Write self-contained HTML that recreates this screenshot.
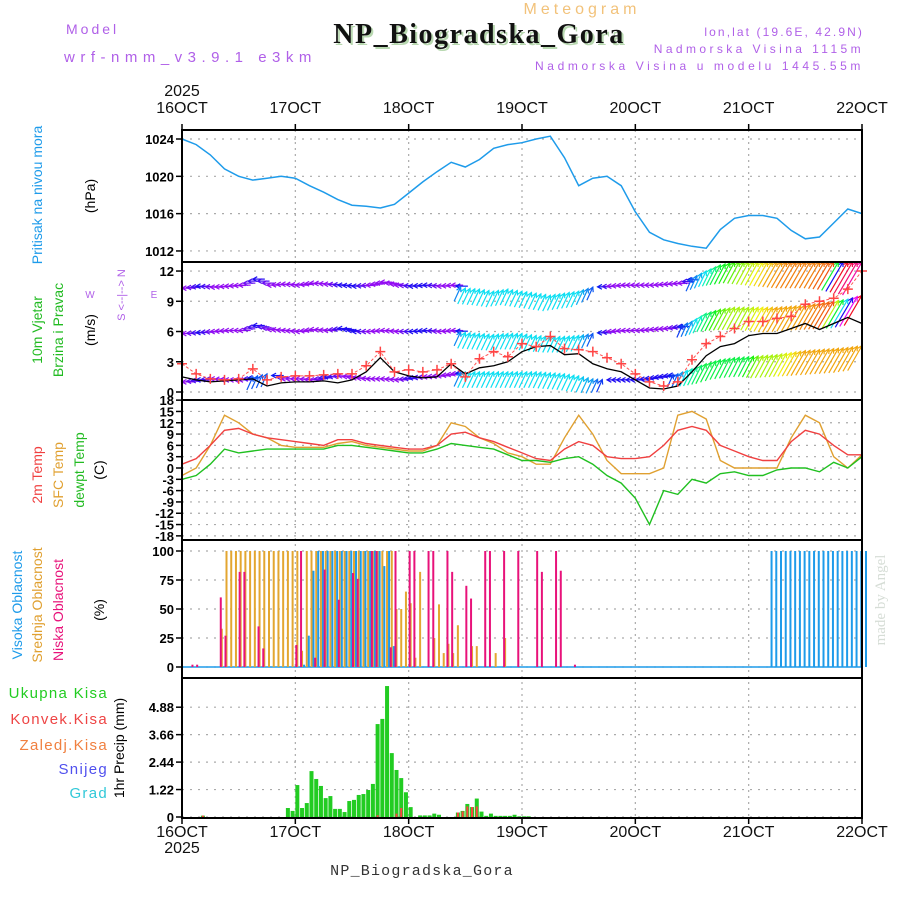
<!DOCTYPE html>
<html><head><meta charset="utf-8"><style>
html,body{margin:0;padding:0;background:#fff;}
svg{display:block;font-family:"Liberation Sans",sans-serif;}
</style></head><body>
<svg id="chart" width="900" height="900" viewBox="0 0 900 900" xmlns="http://www.w3.org/2000/svg">
<rect width="900" height="900" fill="#fff"/>
<text x="582" y="14" text-anchor="middle" font-size="16" fill="#f2c27a" letter-spacing="4">Meteogram</text>
<text x="481" y="45" text-anchor="middle" font-family="Liberation Serif,serif" font-weight="bold" font-size="28" fill="#b8d8b0" letter-spacing="1.5">NP_Biogradska_Gora</text>
<text x="479" y="43" text-anchor="middle" font-family="Liberation Serif,serif" font-weight="bold" font-size="28" fill="#111" letter-spacing="1.5">NP_Biogradska_Gora</text>
<text x="66" y="34" font-size="14" fill="#b060e8" letter-spacing="3">Model</text>
<text x="64" y="62" font-size="15" fill="#b060e8" letter-spacing="5.5">wrf-nmm_v3.9.1 e3km</text>
<text x="864" y="36" text-anchor="end" font-size="12" fill="#b060e8" letter-spacing="2.1">lon,lat (19.6E, 42.9N)</text>
<text x="864" y="53" text-anchor="end" font-size="12" fill="#b060e8" letter-spacing="3.4">Nadmorska Visina 1115m</text>
<text x="864" y="70" text-anchor="end" font-size="12" fill="#b060e8" letter-spacing="3.6">Nadmorska Visina u modelu 1445.55m</text>
<text x="422" y="875" text-anchor="middle" font-family="Liberation Mono,monospace" font-size="15" fill="#333" letter-spacing="1.2">NP_Biogradska_Gora</text>
<text transform="translate(885,600) rotate(-90)" text-anchor="middle" font-family="Liberation Serif,serif" font-size="15" fill="#d6ddd6">made by Angel</text>
<g id="layer"></g>
</svg>
<script>
// ---------- DATA ----------
const days = ["16OCT","17OCT","18OCT","19OCT","20OCT","21OCT","22OCT"];
const pressureTicks = [1012,1016,1020,1024];
const pressure = [1024.0,1023.4,1022.3,1020.8,1020.0,1019.6,1019.8,1020.0,1019.8,1019.0,1018.3,1017.5,1016.9,1016.8,1016.6,1017.0,1018.2,1019.4,1020.5,1021.5,1021.0,1021.8,1023.0,1023.4,1023.6,1024.0,1024.3,1022.0,1019.0,1019.8,1020.0,1019.0,1016.2,1014.0,1013.2,1012.8,1012.5,1012.3,1014.3,1015.5,1015.8,1015.8,1015.5,1014.2,1013.3,1013.5,1015.0,1016.5,1016.0];
const windTicks = [0,3,6,9,12];
const wind10m = [1.5,1.2,1.0,1.1,1.2,1.3,0.6,0.9,1.0,1.0,1.1,0.9,1.2,2.0,3.4,2.0,1.6,1.4,1.5,2.8,1.8,2.4,2.6,3.0,4.0,4.5,4.6,3.7,3.8,2.8,2.3,2.0,1.2,0.4,0.3,0.6,2.0,3.6,4.5,4.8,5.6,5.8,5.8,6.3,6.8,6.2,6.8,7.4,6.8];
const windGust = [2.8,1.8,1.3,1.2,1.3,2.3,1.2,1.5,1.6,1.6,1.7,1.8,1.8,2.6,4.0,2.0,2.2,2.0,2.2,2.8,1.5,3.3,4.0,3.5,4.8,4.5,5.5,4.3,4.2,4.0,3.4,2.8,1.8,1.0,0.6,1.0,3.2,4.8,5.5,6.3,7.0,7.0,7.3,7.5,8.7,9.0,9.3,10.2,12.0];
const topLevel = [10.3,10.5,10.4,10.5,10.6,11.2,10.6,10.7,10.6,10.8,10.7,10.6,10.5,10.6,10.9,10.6,10.5,10.6,10.5,10.6,10.3,10.2,10.0,10.2,10.0,9.8,9.6,9.8,10.0,10.4,10.5,10.6,10.6,10.6,10.7,10.8,11.3,12.0,12.6,12.9,12.9,12.9,12.9,12.9,12.9,12.9,12.9,12.9,12.9];
const topSpeed = [2,3,2,2,2,3,2,2,2,2,2,3,3,2,2,2,3,3,2,2,6,6,6,6,6,6,6,6,6,4,2,2,2,2,2,2,4,6,9,10,11,12,13,14,14,14,15,17,19];
const midLevel = [5.8,5.9,6.0,6.1,6.1,6.6,6.2,6.1,6.0,6.2,6.1,6.3,6.0,6.0,6.1,6.0,6.0,6.1,6.0,6.1,5.9,5.8,5.7,5.8,5.8,5.6,5.5,5.5,5.6,5.8,6.0,6.1,6.1,6.2,6.3,6.5,7.0,7.8,8.2,8.4,8.4,8.4,8.4,8.5,8.6,8.8,9.0,9.2,9.6];
const midSpeed = [2,3,2,2,2,3,2,2,2,2,2,3,3,2,2,2,3,3,2,2,6,6,6,6,6,6,6,6,6,4,2,2,2,2,2,3,5,8,10,11,11,12,13,13,13,14,15,16,17];
const botLevel = [1.0,1.2,1.3,1.2,1.2,1.5,1.8,1.3,1.3,1.2,1.5,1.6,1.4,1.3,1.3,1.2,1.4,1.5,1.6,1.8,2.0,2.0,2.0,2.0,2.0,2.0,1.9,1.8,1.6,1.3,1.2,1.2,1.2,1.4,1.6,1.8,2.3,2.8,3.2,3.4,3.5,3.6,3.7,3.9,4.1,4.2,4.3,4.4,4.6];
const botSpeed = [2,3,2,2,2,4,4,2,2,2,3,2,2,2,2,2,3,2,2,2,6,6,6,6,6,6,6,6,6,5,3,3,3,3,3,4,7,9,9,9,9,11,11,12,13,13,13,13,13];
const tempTicks = [18,15,12,9,6,3,0,-3,-6,-9,-12,-15,-18];
const temp2m = [1,2.5,6,10,10.5,9,8,7.5,7,6.5,6,7.5,7.5,6.5,6,5.5,5,5,6,9,9.5,8,7,5.5,4,2.5,2,5,7,6,3,2.5,2.5,3,6,10,11,10,6,4.5,3,2,2,7,10,9,6,3.5,3.5];
const tempSfc = [-2,0,6,14,12,9,8,6,5.5,5.5,5.5,6.5,7,6,5.5,5,4.5,4.5,6,12,11,8,6.5,4,3,1,1,8,14,9,2,-1.5,-1.5,-1.5,0,14,15,13,2,0,0,0,0,8,14,12,3,0,3.5];
const tempDew = [-3,-2,1,5,4,4.5,5,5,5,5,5,6,6,5.5,5,4.5,4,4,5,6.5,6,5.5,5,3.5,2,2,1.5,2.5,3,1,-2,-4,-8,-15,-6,-7,-3,-4,-1.5,-1,-2,-2,-0.5,0,0,-1,1.5,0,3];
const cloudTicks = [0,25,50,75,100];
const cloudHigh = [0,0,0,0,0,0,0,0,0,0,0,0,0,0,0,0,0,0,0,0,0,0,0,0,0,2,27,83,100,100,100,100,100,100,100,100,100,100,100,100,100,100,87,100,18,0,0,0,0,0,0,0,0,0,0,0,0,0,0,0,0,0,0,0,0,0,0,0,0,0,0,0,0,0,0,0,0,0,0,0,0,0,0,0,0,0,0,0,0,0,0,0,0,0,0,0,0,0,0,0,0,0,0,0,0,0,0,0,0,0,0,0,0,0,0,0,0,0,0,0,0,0,0,0,100,100,100,100,100,100,100,100,100,100,100,100,100,100,100,100,100,100,100,100,100];
const cloudMid = [0,0,0,0,0,0,0,0,33,100,100,100,100,100,100,100,100,100,100,100,100,100,100,100,100,14,100,100,100,100,100,100,100,100,100,100,100,100,100,100,100,100,100,100,100,50,50,65,55,8,82,0,0,25,54,12,20,12,36,0,0,18,18,0,0,0,12,0,25];
const cloudLow = [0,0,2,2,0,0,0,0,60,27,0,0,82,82,0,0,35,16,0,0,0,0,0,0,19,100,0,0,8,0,84,0,0,58,0,0,81,76,0,0,100,100,0,0,17,100,0,0,100,100,0,0,100,100,0,0,100,82,0,0,70,59,0,0,100,100,0,0,100,0,0,100,0,0,0,100,82,0,0,100,83,0,0,2];
const precipTicks = [0,1.22,2.44,3.66,4.88];
const precipTotal = [0,0,0,0,0.06,0,0,0,0,0,0,0,0,0,0,0,0,0,0,0,0,0,0.4,0.27,1.42,0.4,0.62,2.04,1.69,1.38,0.84,0.93,0.36,0.36,0.22,0.71,0.76,0.98,1.02,1.2,1.47,4.13,4.36,5.82,2.84,2.09,1.73,1.1,0.44,0,0.07,0.07,0.07,0.15,0.1,0,0,0,0.2,0.27,0.58,0.44,0.82,0.24,0.05,0.15,0.05,0.05,0.05,0.05,0.1,0.03,0.03,0.03];
const precipConv = [0,0,0,0,0.06,0,0,0,0,0,0,0,0,0,0,0,0,0,0,0,0,0,0,0,0,0,0,0,0,0,0,0,0,0,0,0,0,0,0,0,0,0.08,0,0,0,0.15,0.4,0,0,0,0,0,0,0,0,0,0,0,0.2,0.25,0.47,0.44,0.47];

// ---------- GEOMETRY ----------
const X0 = 182, X1 = 862, DAYW = (X1 - X0) / 6;
const NS = "http://www.w3.org/2000/svg";
const layer = document.getElementById("layer");
function mk(tag, attrs, parent) {
  const e = document.createElementNS(NS, tag);
  for (const k in attrs) e.setAttribute(k, attrs[k]);
  (parent || layer).appendChild(e);
  return e;
}
const x3h = i => X0 + i * DAYW / 8;
const xHour = h => X0 + h * DAYW / 24 + 2;
const yP = v => 139 + (1024 - v) * 9.33;
const yW = v => 392 - v * 10.08;
const yT = v => 468 - v * 3.77;
const yC = v => 667 - v * 1.16;
const yR = v => 817 - v * 22.5;
const panels = [[130,262],[262,400],[400,540],[540,678],[678,818]];

for (let d = 1; d < 6; d++) {
  const l = mk("line", {x1: X0 + d*DAYW, x2: X0 + d*DAYW, y1: 130, y2: 818, stroke: "#aaa", "stroke-dasharray": "2,4", "stroke-width": 1.2});
  
  
}
function yAxis(ticks, yf, fmt, name) {
  ticks.forEach(t => {
    const y = yf(t);
    const g = mk("line", {x1: X0, x2: X1, y1: y, y2: y, stroke: "#aaa", "stroke-dasharray": "2,6", "stroke-width": 1.2});
    
    
    mk("line", {x1: X0 - 6, x2: X0, y1: y, y2: y, stroke: "#000", "stroke-width": 1.5});
    const tx = mk("text", {x: X0 - 8, y: y + 5, "text-anchor": "end", "font-size": 13, "font-weight": "bold", fill: "#000"});
    tx.textContent = fmt(t);
    
    
  });
}
yAxis(pressureTicks, yP, t => t, "pressure");
yAxis(windTicks, yW, t => t, "wind");
yAxis(tempTicks, yT, t => t, "temp");
yAxis(cloudTicks, yC, t => t, "cloud");
yAxis(precipTicks, yR, t => t === 0 ? "0" : t.toFixed(2), "precip");

days.forEach((d, i) => {
  const x = X0 + i * DAYW;
  const t1 = mk("text", {x: x, y: 113, "text-anchor": "middle", "font-size": 16, fill: "#111"});
  t1.textContent = d;
  
  
  const t2 = mk("text", {x: x, y: 837, "text-anchor": "middle", "font-size": 16, fill: "#111"});
  t2.textContent = d;
  
  
  mk("line", {x1: x, x2: x, y1: 124, y2: 130, stroke: "#000", "stroke-width": 1.5});
  mk("line", {x1: x, x2: x, y1: 818, y2: 824, stroke: "#000", "stroke-width": 1.5});
});
[[96,"top-year-label"],[853,"bottom-year-label"]].forEach(([y, n]) => {
  const t = mk("text", {x: X0, y: y, "text-anchor": "middle", "font-size": 16, fill: "#111"});
  t.textContent = "2025";
  
  
});

const pp = pressure.map((v, i) => x3h(i).toFixed(1) + "," + yP(v).toFixed(1)).join(" ");
const pl = mk("polyline", {points: pp, fill: "none", stroke: "#1e9bea", "stroke-width": 1.5});



const hueStops = [[0,275],[2,275],[3,245],[4,220],[6,185],[9,135],[11,80],[12,60],[13,40],[14,30],[15,18],[17,355],[19,320]];
function hueFor(s) {
  for (let k = 1; k < hueStops.length; k++) {
    if (s <= hueStops[k][0]) {
      const [a, ha] = hueStops[k-1], [b, hb] = hueStops[k];
      return ha + (hb - ha) * (s - a) / (b - a);
    }
  }
  return 320;
}
const windG = mk("g", {});


function windRow(levels, speeds, name) {
  for (let h = 0; h <= 144; h++) {
    const i = Math.min(Math.floor(h / 3), 47), f = (h - i * 3) / 3;
    const lev = levels[i] + (levels[i+1] - levels[i]) * f;
    const sp = speeds[i] + (speeds[i+1] - speeds[i]) * f;
    const x = X0 + h * DAYW / 24, y = yW(lev);
    const col = "hsl(" + hueFor(sp).toFixed(0) + ",90%,50%)";
    let ang, len;
    if (sp < 3.5) { ang = 0; len = 12; } else { ang = 112 + Math.min(sp, 14) * 0.6; len = 8 + sp * 1.6; }
    const a = ang * Math.PI / 180;
    const tx = x + len * Math.cos(a), ty = y + len * Math.sin(a);
    const g = mk("g", {stroke: col, "stroke-width": 1.2, fill: "none"}, windG);
    
    
    mk("line", {x1: x, y1: y, x2: tx, y2: ty}, g);
    const b1 = a + 0.5, b2 = a - 0.5;
    mk("polyline", {points: (x + 5*Math.cos(b1)) + "," + (y + 5*Math.sin(b1)) + " " + x + "," + y + " " + (x + 5*Math.cos(b2)) + "," + (y + 5*Math.sin(b2))}, g);
  }
}
windRow(topLevel, topSpeed, "wind-top");
windRow(midLevel, midSpeed, "wind-mid");
windRow(botLevel, botSpeed, "wind-bottom");
const wl = mk("polyline", {points: wind10m.map((v, i) => x3h(i).toFixed(1) + "," + yW(v).toFixed(1)).join(" "), fill: "none", stroke: "#000", "stroke-width": 1.3});


const gl = mk("polyline", {points: windGust.map((v, i) => x3h(i).toFixed(1) + "," + yW(v).toFixed(1)).join(" "), fill: "none", stroke: "#f55", "stroke-width": 1, "stroke-dasharray": "3,2"});


windGust.forEach((v, i) => {
  const x = x3h(i), y = yW(v);
  const p = mk("path", {d: `M${x-5},${y}h10M${x},${y-5}v10`, stroke: "#f44", "stroke-width": 1.5});
  
  
});

[[tempSfc, "#e0a030", "sfc-temp-line"], [temp2m, "#f04040", "2m-temp-line"], [tempDew, "#20c020", "dewpoint-line"]].forEach(([arr, c, n]) => {
  const l = mk("polyline", {points: arr.map((v, i) => x3h(i).toFixed(1) + "," + yT(v).toFixed(1)).join(" "), fill: "none", stroke: c, "stroke-width": 1.4});
  
  
});

mk("line", {x1: X0, x2: X1, y1: yC(0), y2: yC(0), stroke: "#1e9bea", "stroke-width": 1.5});
function cloudBars(arr, col, off, name) {
  for (let h = 0; h <= 144; h++) {
    const v = arr[h] || 0;
    if (v <= 0) continue;
    const r = mk("rect", {x: xHour(h) + off - 1, y: yC(v), width: 2, height: yC(0) - yC(v), fill: col});
    
    
  }
}
cloudBars(cloudMid, "#e3a630", 0, "mid-cloud-bar");
cloudBars(cloudHigh, "#1e9bea", 2, "high-cloud-bar");
cloudBars(cloudLow, "#e8127a", -1, "low-cloud-bar");

for (let h = 0; h <= 144; h++) {
  const v = precipTotal[h] || 0;
  if (v > 0) {
    const r = mk("rect", {x: xHour(h) - 2, y: yR(v), width: 4, height: yR(0) - yR(v), fill: "#22cc22"});
    
    
  }
  const c = precipConv[h] || 0;
  if (c > 0) {
    const r2 = mk("rect", {x: xHour(h) - 1, y: yR(c), width: 2, height: yR(0) - yR(c), fill: "#ff4040"});
    
    
  }
}

panels.forEach(([a, b]) => {
  const r = mk("rect", {x: X0, y: a, width: X1 - X0, height: b - a, fill: "none", stroke: "#000", "stroke-width": 2});
  
  
});

function rot(x, y, txt, col, size, name) {
  const t = mk("text", {transform: `translate(${x},${y}) rotate(-90)`, "text-anchor": "middle", "font-size": size, fill: col});
  t.textContent = txt;
  
  
}
rot(42, 195, "Pritisak na nivou mora", "#1e9bea", 14, "pressure-title");
rot(95, 196, "(hPa)", "#000", 14, "pressure-unit");
rot(42, 330, "10m Vjetar", "#22bb22", 14, "wind-title-1");
rot(63, 330, "Brzina i Pravac", "#22bb22", 14, "wind-title-2");
rot(95, 330, "(m/s)", "#000", 14, "wind-unit");
rot(125, 295, "S <--|--> N", "#b060e8", 11, "wind-compass");
[[90,"W"],[154,"E"]].forEach(([x, s]) => {
  const t = mk("text", {x: x, y: 298, "text-anchor": "middle", "font-size": 10, fill: "#b060e8"});
  t.textContent = s;
  
  
});
rot(42, 475, "2m Temp", "#f04040", 14, "temp-2m-label");
rot(63, 475, "SFC Temp", "#e0a030", 14, "temp-sfc-label");
rot(84, 470, "dewpt Temp", "#22bb22", 14, "temp-dew-label");
rot(104, 470, "(C)", "#000", 14, "temp-unit");
rot(22, 605, "Visoka Oblacnost", "#1e9bea", 14, "high-cloud-label");
rot(42, 605, "Srednja Oblacnost", "#e0a030", 14, "mid-cloud-label");
rot(63, 610, "Niska Oblacnost", "#e8127a", 14, "low-cloud-label");
rot(104, 610, "(%)", "#000", 14, "cloud-unit");
rot(124, 748, "1hr Precip (mm)", "#000", 14, "precip-title");
[["Ukupna Kisa","#22cc22",698,"legend-total"],["Konvek.Kisa","#ee4444",724,"legend-convective"],["Zaledj.Kisa","#f08040",750,"legend-frozen"],["Snijeg","#5050ee",774,"legend-snow"],["Grad","#30c8d8",798,"legend-hail"]].forEach(([s, c, y, n]) => {
  const t = mk("text", {x: 108, y: y, "text-anchor": "end", "font-size": 15, fill: c, "letter-spacing": "1.3"});
  t.textContent = s;
  
  
});
</script>
</body></html>
